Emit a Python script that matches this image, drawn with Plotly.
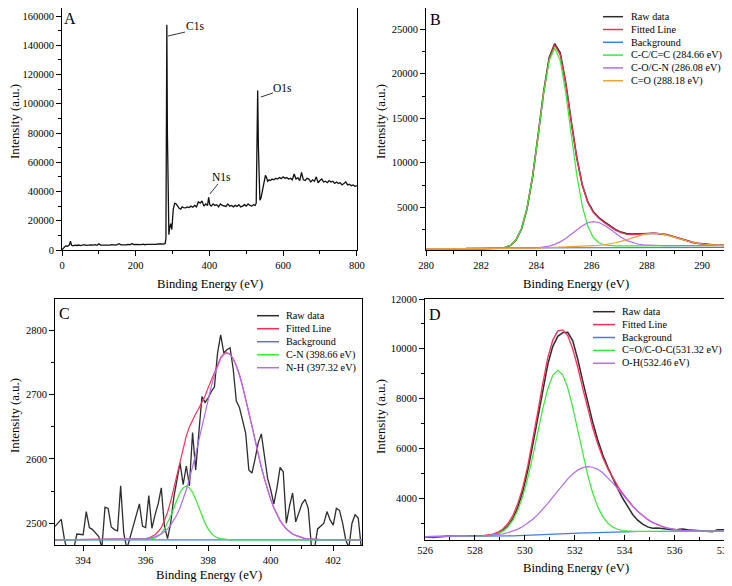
import plotly.graph_objects as go

# the page body adds an 8 px margin, so the figure covers window pixels 8..732 / 8..586
OFF = 8
W, H = 732 - OFF, 586 - OFF
FONT = "'Liberation Serif', 'Times New Roman', Times, serif"

# ---------------- Panel A : survey spectrum ----------------
survey_x = [0, 5, 10, 15, 20, 23, 26, 30, 35, 40, 45, 50, 55, 60, 65, 70, 75, 80, 85, 90, 95, 100,
            105, 110, 115, 120, 125, 130, 135, 140, 145, 150, 155, 160, 165, 170, 175, 180, 185, 190,
            195, 200, 205, 210, 215, 220, 225, 230, 235, 240, 245, 250, 255, 260, 265, 270, 275, 280,
            282, 283, 284.5, 286, 288, 290, 292, 295, 298, 302, 306, 310, 314, 318, 322, 326, 330,
            335, 340, 345, 350, 355, 360, 365, 370, 375, 380, 385, 390, 395, 398, 401, 405, 410, 415,
            420, 425, 430, 435, 440, 445, 450, 455, 460, 465, 470, 475, 480, 485, 490, 495, 500, 505,
            510, 515, 520, 524, 527, 529, 531, 533, 535, 537, 540, 543, 546, 549, 552, 555, 558, 562,
            566, 570, 575, 580, 585, 590, 595, 600, 605, 610, 615, 620, 625, 630, 635, 640, 645, 650,
            655, 660, 665, 670, 675, 680, 685, 690, 695, 700, 705, 710, 715, 720, 725, 730, 735, 740,
            745, 750, 755, 760, 765, 770, 775, 780, 785, 790, 795, 800]
survey_y = [200, 1500, 2800, 2600, 3500, 6000, 3200, 2800, 3300, 3100, 3400, 3000, 3300, 3600, 3200,
            3400, 3100, 3500, 3300, 3600, 3200, 4200, 3400, 3300, 3600, 3200, 3500, 3300, 3700, 3400,
            3300, 3700, 4300, 3500, 3400, 3800, 3600, 3900, 3500, 4400, 3700, 3800, 3600, 3900, 3700,
            4000, 3600, 3900, 3800, 4100, 3700, 4000, 3800, 4200, 3900, 4100, 4000, 4500, 8000, 60000,
            154000, 80000, 20000, 10500, 15000, 18000, 14000, 28000, 32000, 31500, 30000, 28500, 28000,
            29500, 29000, 28800, 29500, 29000, 30000, 29200, 30500, 29500, 33000, 32000, 33500, 30000,
            31500, 30500, 36000, 31000, 30000, 31500, 30500, 31000, 29500, 31500, 30500, 30000, 29800,
            31500, 30000, 30500, 29500, 30500, 29800, 31000, 29500, 30000, 31000, 30000, 31500, 30500,
            30000, 31000, 30500, 32000, 70000, 109000, 70000, 40000, 34000, 35500, 40000, 44000, 46000,
            51000, 49500, 47000, 48000, 47500, 48500, 48000, 49000, 48500, 49500, 48800, 50000, 49000,
            49500, 48500, 49000, 48000, 52000, 48500, 49500, 47500, 53000, 48000, 47500, 49000, 48500,
            46500, 48000, 47000, 50000, 46000, 47500, 48500, 46500, 47000, 46000, 47500, 46500, 47000,
            45500, 46500, 45500, 46000, 44500, 45500, 46500, 44500, 45000, 44000, 44500, 43500, 44000]
peak_labels = ["C1s", "N1s", "O1s"]

# ---------------- Panel B : C1s ----------------
b_x = [280.0] + [round(280.06 + 0.2 * k, 2) for k in range(55)] + [291.0]
b_raw = [335, 333, 332, 334, 336, 333, 337, 338, 336, 339, 342, 345,
         350, 360, 392, 470, 720, 1310, 2560, 4850, 8420, 13100, 17980, 21800, 23380, 22350, 19000,
         14650, 10560, 7500, 5600, 4500, 3850, 3350, 2900, 2500, 2210, 2040, 1990, 1985, 2010, 2060,
         2075, 2050, 1960, 1800, 1600, 1400, 1215, 1060, 940, 850, 790, 752, 728, 715, 710]
b_fit = [330, 330, 331, 332, 333, 334, 335, 336, 337, 338, 340, 342,
         346, 355, 387, 480, 735, 1345, 2623, 4934, 8476, 13065, 17884, 21654, 23233, 22126, 18859,
         14577, 10540, 7492, 5540, 4419, 3752, 3257, 2821, 2437, 2143, 1973, 1917, 1947, 2015, 2076,
         2092, 2047, 1935, 1776, 1586, 1391, 1209, 1056, 935, 847, 787, 748, 726, 713, 708]
b_bg_x = [281.45, 291.0]
b_bg_y = [420, 480]
b_cc = [330, 330, 331, 332, 333, 334, 335, 336, 337, 338, 340, 342,
        346, 355, 387, 480, 735, 1345, 2623, 4927, 8459, 13023, 17792, 21466, 22880, 21516, 17890,
        13163, 8636, 5137, 2858, 1601, 1009, 768, 688, 667, 665, 672, 678, 683, 688, 692, 695, 698,
        700, 700, 700, 700, 700, 700, 700, 700, 700, 700, 700, 700, 700]
b_co = [330, 330, 331, 332, 333, 334, 335, 336, 337, 338, 340, 342, 344, 346, 349, 352, 356, 362, 370,
        387, 412, 454, 524, 643, 833, 1115, 1499, 1966, 2470, 2932, 3261, 3388, 3286, 2982, 2548,
        2072, 1634, 1282, 1031, 871, 780, 734, 712, 705,
        700, 700, 700, 700, 700, 700, 700, 700, 700, 700, 700, 700, 700]
b_cdo = [330, 330, 331, 332, 333, 334, 335, 336, 337, 338, 340, 342, 344, 346, 349, 352, 356, 362, 370,
         380, 395, 412, 432, 455, 480, 505, 530, 552,
         578, 603, 631, 666, 717, 787, 885, 1014, 1174, 1363, 1564, 1759, 1923, 2034, 2075, 2040,
         1935, 1776, 1586, 1391, 1209, 1056, 935, 847, 787, 748, 726, 713, 708]
b_names = ["Raw data", "Fitted Line", "Background", "C-C/C=C (284.66 eV)",
           "C-O/C-N (286.08 eV)", "C=O (288.18 eV)"]

# ---------------- Panel C : N1s ----------------
c_raw_x = [round(393.1 + 0.1 * i, 1) for i in range(100)]
c_raw = [2495, 2500, 2506, 2475, 2455, 2455, 2460, 2483, 2482, 2482,
         2518, 2493, 2490, 2485, 2479, 2462, 2525, 2523, 2494, 2490,
         2488, 2558, 2484, 2460, 2478, 2495, 2510, 2530, 2495, 2493,
         2543, 2492, 2513, 2530, 2555, 2495, 2476, 2500, 2540, 2565,
         2594, 2560, 2589, 2558, 2641, 2583, 2640, 2697, 2688, 2695,
         2705, 2712, 2765, 2793, 2765, 2770, 2773, 2740, 2690, 2680,
         2660, 2640, 2583, 2578, 2600, 2625, 2639, 2600, 2570, 2552,
         2530, 2555, 2587, 2580, 2500, 2526, 2547, 2502, 2515, 2530,
         2537, 2523, 2465, 2460, 2491, 2496, 2500, 2518, 2505, 2497,
         2523, 2520, 2500, 2474, 2462, 2500, 2513, 2508, 2460, 2480]
c_fit_x = [393.1] + [round(395.8 + 0.1 * i, 1) for i in range(59)] + [403.0]
c_fit = [2474, 2475, 2475, 2476, 2477, 2479, 2482, 2487, 2493, 2504, 2517, 2534, 2554, 2576, 2598,
         2618, 2636, 2650, 2661, 2670, 2679, 2688, 2698, 2711, 2723, 2737, 2748, 2758, 2764, 2765,
         2763, 2756, 2745, 2731, 2713, 2694, 2672, 2651, 2629, 2607, 2587, 2569, 2552, 2537, 2524,
         2513, 2504, 2497, 2491, 2487, 2483, 2481, 2479, 2477, 2476, 2475.5, 2475, 2474.6, 2474.4,
         2474.3, 2474]
c_bg_x = [393.1, 403.0]
c_bg_y = [2474, 2474]
c_cn_x = [393.1] + [round(395.9 + 0.1 * i, 1) for i in range(29)] + [403.0]
c_cn = [2474, 2474, 2474, 2475, 2476, 2477, 2480, 2484, 2491, 2500, 2511, 2524, 2537, 2548, 2555,
        2558, 2555, 2548, 2537, 2524, 2511, 2500, 2491, 2484, 2480, 2477, 2476, 2475, 2474, 2474, 2474]
c_nh_x = [393.1] + [round(395.6 + 0.1 * i, 1) for i in range(61)] + [403.0]
c_nh = [2474, 2474.3, 2474.4, 2474.6, 2475, 2475.5, 2476, 2477, 2479, 2481, 2483, 2487, 2491, 2497,
        2504, 2513, 2524, 2537, 2552, 2569, 2587, 2607, 2629, 2651, 2672, 2694, 2713, 2731, 2745,
        2756, 2763, 2765,
        2763, 2756, 2745, 2731, 2713, 2694, 2672, 2651, 2629, 2607, 2587, 2569, 2552, 2537, 2524,
        2513, 2504, 2497, 2491, 2487, 2483, 2481, 2479, 2477, 2476, 2475.5, 2475, 2474.6, 2474.4,
        2474.3, 2474]
c_names = ["Raw data", "Fitted Line", "Background", "C-N (398.66 eV)", "N-H (397.32 eV)"]

# ---------------- Panel D : O1s ----------------
d_x = [526.0] + [round(526.12 + 0.2 * k, 2) for k in range(60)] + [538.0]
d_raw = [2440, 2430, 2425, 2440, 2470, 2480,
         2472, 2468, 2465, 2480, 2490, 2485, 2490, 2505, 2530, 2590, 2700, 2880, 3180, 3640, 4280,
         5130, 6150, 7270, 8380, 9380, 10100, 10500, 10650, 10660, 10320, 9580, 8700, 7850, 7050,
         6350, 5750, 5250, 4800, 4380, 4000, 3650, 3350, 3120, 2960, 2850, 2800, 2810, 2780, 2760,
         2740, 2750, 2770, 2740, 2720, 2710, 2700, 2680, 2660, 2740, 2760, 2740]
d_fit = [2460, 2460, 2461, 2462, 2463, 2464,
         2465, 2467, 2469, 2471, 2474, 2483, 2496, 2519, 2563, 2638, 2767, 2977, 3304, 3785, 4449,
         5307, 6335, 7471, 8615, 9642, 10350, 10720, 10760, 10530, 9990, 9260, 8410, 7580, 6829,
         6186, 5647, 5198, 4816, 4485, 4190, 3925, 3689, 3480, 3300, 3151, 3029, 2932, 2857, 2801,
         2761, 2732, 2713, 2699, 2691, 2687, 2683, 2682, 2681, 2681, 2680, 2680]
d_bg = [2460, 2460, 2461, 2462, 2463, 2464, 2465, 2466, 2467, 2468, 2469, 2470, 2472, 2474, 2477,
        2480, 2484, 2488, 2493, 2499, 2506, 2514, 2522, 2531, 2540, 2549, 2558, 2567, 2576, 2585,
        2594, 2603, 2611, 2619, 2626, 2633, 2639, 2644, 2649, 2653, 2657, 2660, 2663, 2665, 2667,
        2669, 2670, 2671, 2672, 2673, 2674, 2675, 2676, 2676, 2677, 2678, 2678, 2679, 2679, 2680,
        2680, 2680]
d_coc = [2460, 2460, 2461, 2462, 2463, 2464, 2465, 2466, 2467, 2468, 2469,
         2474, 2482, 2496, 2526, 2581, 2680, 2849, 3119, 3524, 4090, 4825, 5702, 6660, 7599, 8399,
         8940, 9137, 8958, 8435, 7653, 6732, 5791, 4930, 4210, 3658, 3265, 3005, 2845, 2754, 2706,
         2682, 2673, 2669,
         2667, 2669, 2670, 2671, 2672, 2673, 2674, 2675, 2676, 2676, 2677, 2678, 2678, 2679, 2679,
         2680, 2680, 2680]
d_oh = [2460, 2460, 2461, 2462, 2463, 2464,
        2465, 2467, 2469, 2471, 2474, 2479, 2486, 2497, 2514, 2537, 2571, 2616, 2678, 2760, 2865,
        2996, 3155, 3342, 3556, 3792, 4042, 4298, 4547, 4778, 4976, 5131, 5230, 5269, 5245, 5161,
        5021, 4837, 4620, 4384, 4141, 3903, 3679, 3476, 3300, 3151, 3029, 2932, 2857, 2801, 2761,
        2732, 2713, 2699, 2691, 2687, 2683, 2682, 2681, 2681, 2680, 2680]
d_names = ["Raw data", "Fitted Line", "Background", "C=O/C-O-C(531.32 eV)", "O-H(532.46 eV)"]

# ---------------- styling ----------------
C_RAW, C_FIT, C_BG = "#2d2d2d", "#ff2d55", "#3d7ee6"
C_GREEN, C_PURPLE, C_ORANGE = "#33ee33", "#b26bff", "#f5a030"


def px_x(p):
    return min(1.0, max(0.0, (p - OFF) / W))


def px_y(p):
    return min(1.0, max(0.0, 1 - (p - OFF) / H))


fig = go.Figure()


def add(x, y, color, ax, width=1.2):
    fig.add_trace(go.Scatter(x=x, y=y, mode="lines", line=dict(color=color, width=width),
                             xaxis="x" + ax, yaxis="y" + ax, showlegend=False, hoverinfo="skip"))


add(survey_x, survey_y, "#111111", "", 1.3)

add(b_x, b_raw, C_RAW, "2", 1.6)
add(b_x, b_fit, C_FIT, "2", 1.3)
add(b_bg_x, b_bg_y, C_BG, "2")
add(b_x, b_cc, C_GREEN, "2")
add(b_x, b_co, C_PURPLE, "2")
add(b_x, b_cdo, C_ORANGE, "2")

add(c_raw_x, c_raw, C_RAW, "3", 1.3)
add(c_fit_x, c_fit, C_FIT, "3")
add(c_bg_x, c_bg_y, C_BG, "3")
add(c_cn_x, c_cn, C_GREEN, "3")
add(c_nh_x, c_nh, C_PURPLE, "3")

add(d_x, d_raw, C_RAW, "4", 1.5)
add(d_x, d_fit, C_FIT, "4", 1.3)
add(d_x, d_bg, C_BG, "4")
add(d_x, d_coc, C_GREEN, "4")
add(d_x, d_oh, C_PURPLE, "4")

TICKFONT = dict(family=FONT, size=10.5, color="black")


def axis(domain, rng, dtick, minor, anchor, ticks="outside"):
    return dict(domain=domain, range=rng, dtick=dtick, tick0=0, showline=True, linecolor="black",
                linewidth=1, mirror=True, ticks=ticks, ticklen=5, tickwidth=1,
                tickcolor="black", showgrid=False, zeroline=False, tickfont=TICKFONT,
                tickformat="d", anchor=anchor, automargin=False, ticklabeloverflow="allow",
                minor=dict(dtick=minor, ticks=ticks, ticklen=3, tickwidth=1,
                           tickcolor="black", showgrid=False))


fig.update_layout(
    width=W, height=H, margin=dict(l=0, r=0, t=0, b=0, pad=0, autoexpand=False),
    paper_bgcolor="white", plot_bgcolor="white",
    font=dict(family=FONT, color="black"),
    xaxis=axis([px_x(62), px_x(357)], [0, 800.5], 200, 100, "y"),
    yaxis=axis([px_y(250), px_y(8)], [0, 165470], 20000, 10000, "x"),
    xaxis2=axis([px_x(426), px_x(727)], [280, 290.9], 2, 1, "y2"),
    yaxis2=axis([px_y(250), px_y(8)], [200, 27390], 5000, 2500, "x2"),
    xaxis3=axis([px_x(55), px_x(362)], [393.1, 402.92], 2, 1, "y3"),
    yaxis3=axis([px_y(545), px_y(299)], [2466, 2849], 100, 50, "x3"),
    xaxis4=axis([px_x(425), px_x(725)], [526, 538.02], 2, 1, "y4", ticks="inside"),
    yaxis4=axis([px_y(540), px_y(299)], [2324, 12000], 2000, 1000, "x4"),
)

ann = []
shapes = []


def text(s, x, y, size, angle=0, xanchor="center"):
    ann.append(dict(text=s, x=px_x(x), y=px_y(y), xref="paper", yref="paper", showarrow=False,
                    font=dict(family=FONT, size=size, color="black"), textangle=angle,
                    xanchor=xanchor, yanchor="middle"))


# panel letters
text("A", 70, 18, 16)
text("B", 435, 20, 16)
text("C", 65, 313, 16)
text("D", 435, 314, 16)

# axis titles
for (xc, yc) in [(210, 284), (576, 284), (209, 575), (576, 568)]:
    text("Binding Energy (eV)", xc, yc, 12.6)
for (xc, yc) in [(15, 122), (381, 122), (15, 416), (381, 417)]:
    text("Intensity (a.u.)", xc, yc, 12.8, angle=-90)

# survey peak labels with leader lines (data coordinates)
lab_pos = [(360.7, 153200), (433.9, 49900), (599.3, 110770)]
leaders = [((287.5, 146300), (333.6, 149000)), ((401.4, 38290), (423.0, 45130)),
           ((539.7, 104600), (572.2, 107350))]
for name, (lx, ly), ((x0, y0), (x1, y1)) in zip(peak_labels, lab_pos, leaders):
    ann.append(dict(text=name, x=lx, y=ly, xref="x", yref="y", showarrow=False,
                    font=dict(family=FONT, size=11.5, color="black")))
    shapes.append(dict(type="line", x0=x0, y0=y0, x1=x1, y1=y1, xref="x", yref="y",
                       line=dict(color="black", width=0.8)))


def legend(names, colors, lx0, lx1, tx, y0, dy):
    for i, (n, c) in enumerate(zip(names, colors)):
        y = y0 + i * dy
        shapes.append(dict(type="line", x0=px_x(lx0), x1=px_x(lx1), y0=px_y(y), y1=px_y(y),
                           xref="paper", yref="paper", line=dict(color=c, width=1.5)))
        text(n, tx, y, 10.2, xanchor="left")


legend(b_names, [C_RAW, C_FIT, C_BG, C_GREEN, C_PURPLE, C_ORANGE], 603, 623, 629, 16.7, 12.8)
legend(c_names, [C_RAW, C_FIT, C_BG, C_GREEN, C_PURPLE], 257, 279, 284, 315.7, 13.0)
legend(d_names, [C_RAW, C_FIT, C_BG, C_GREEN, C_PURPLE], 593, 615, 620, 311.7, 12.9)

fig.update_layout(annotations=ann, shapes=shapes)
fig.write_html("out.html")
